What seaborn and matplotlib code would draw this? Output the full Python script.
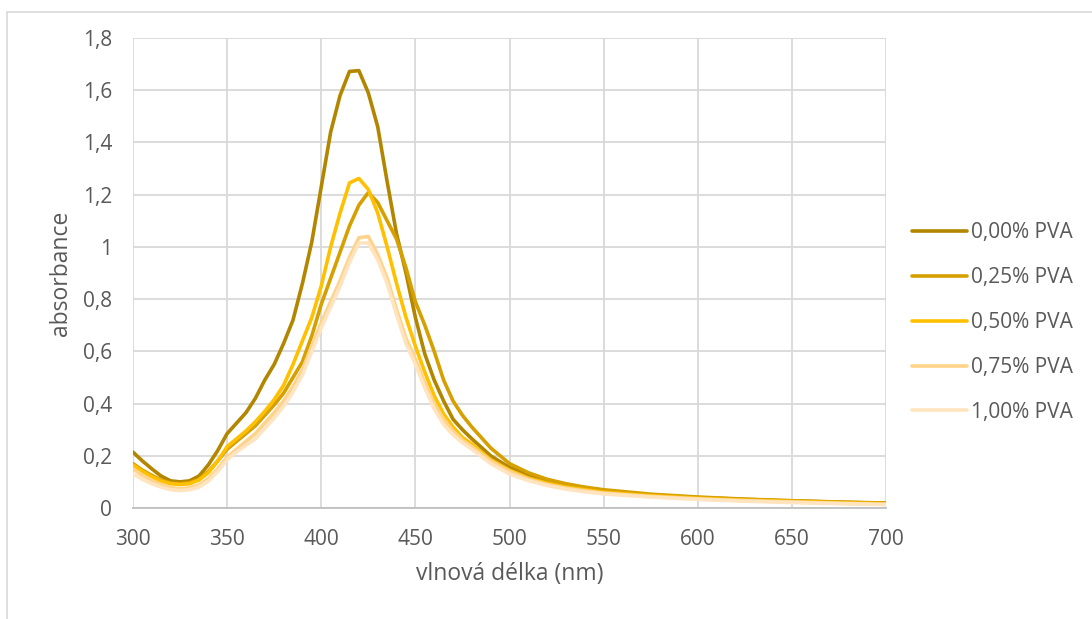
import pandas as pd
import seaborn as sns
import matplotlib.pyplot as plt
from matplotlib.patches import Rectangle

# wavelength grid (nm) shared by all spectra
wavelength = [300, 305, 310, 315, 320, 325, 330, 335, 340, 345, 350, 355, 360, 365, 370,
              375, 380, 385, 390, 395, 400, 405, 410, 415, 420, 425, 430, 435, 440, 445,
              450, 455, 460, 465, 470, 475, 480, 490, 500, 510, 520, 530, 540, 550,
              575, 600, 625, 650, 675, 700]

# absorbance
pva_000 = [0.214, 0.18, 0.15, 0.122, 0.104, 0.100, 0.104, 0.122, 0.165, 0.22, 0.285, 0.325,
           0.365, 0.42, 0.49, 0.55, 0.63, 0.72, 0.86, 1.02, 1.23, 1.44, 1.58, 1.672, 1.675,
           1.59, 1.46, 1.25, 1.05, 0.90, 0.73, 0.59, 0.49, 0.41, 0.34, 0.30, 0.265, 0.20,
           0.155, 0.125, 0.10, 0.085, 0.073, 0.063, 0.05, 0.04, 0.033, 0.027, 0.022, 0.018]
pva_025 = [0.17, 0.145, 0.125, 0.107, 0.096, 0.093, 0.097, 0.11, 0.14, 0.18, 0.225, 0.255,
           0.285, 0.315, 0.355, 0.395, 0.44, 0.50, 0.56, 0.66, 0.78, 0.88, 0.98, 1.08, 1.16,
           1.208, 1.17, 1.10, 1.03, 0.92, 0.79, 0.70, 0.60, 0.49, 0.41, 0.355, 0.31, 0.23,
           0.17, 0.135, 0.11, 0.093, 0.08, 0.07, 0.053, 0.042, 0.034, 0.028, 0.023, 0.019]
pva_050 = [0.165, 0.14, 0.12, 0.103, 0.093, 0.09, 0.093, 0.107, 0.135, 0.18, 0.235, 0.265,
           0.295, 0.33, 0.37, 0.415, 0.47, 0.55, 0.64, 0.73, 0.85, 1.00, 1.13, 1.245, 1.262,
           1.22, 1.13, 1.00, 0.86, 0.73, 0.62, 0.52, 0.43, 0.36, 0.31, 0.27, 0.245, 0.185,
           0.145, 0.115, 0.095, 0.08, 0.07, 0.06, 0.047, 0.037, 0.03, 0.025, 0.02, 0.016]
pva_075 = [0.15, 0.125, 0.105, 0.09, 0.078, 0.074, 0.077, 0.088, 0.112, 0.15, 0.195, 0.225,
           0.255, 0.285, 0.325, 0.365, 0.41, 0.465, 0.53, 0.62, 0.71, 0.79, 0.87, 0.96, 1.035,
           1.04, 0.97, 0.88, 0.76, 0.65, 0.57, 0.48, 0.40, 0.34, 0.295, 0.26, 0.235, 0.18,
           0.14, 0.11, 0.09, 0.076, 0.066, 0.057, 0.044, 0.035, 0.028, 0.023, 0.018, 0.014]
pva_100 = [0.13, 0.11, 0.093, 0.08, 0.07, 0.067, 0.07, 0.08, 0.103, 0.14, 0.185, 0.215,
           0.24, 0.265, 0.305, 0.345, 0.39, 0.445, 0.51, 0.60, 0.69, 0.77, 0.85, 0.94, 1.015,
           1.015, 0.95, 0.86, 0.74, 0.63, 0.55, 0.46, 0.38, 0.32, 0.28, 0.25, 0.225, 0.17,
           0.13, 0.105, 0.086, 0.072, 0.062, 0.054, 0.042, 0.033, 0.026, 0.021, 0.017, 0.013]

series_names = ["0,00% PVA", "0,25% PVA", "0,50% PVA", "0,75% PVA", "1,00% PVA"]
series_colors = ["#B38600", "#D6A000", "#FFC000", "#FFD38A", "#FFE4BF"]

y_ticks = [0, 0.2, 0.4, 0.6, 0.8, 1.0, 1.2, 1.4, 1.6, 1.8]
y_tick_labels = ["0", "0,2", "0,4", "0,6", "0,8", "1", "1,2", "1,4", "1,6", "1,8"]
x_ticks = [300, 350, 400, 450, 500, 550, 600, 650, 700]

frames = []
for name, vals in zip(series_names, [pva_000, pva_025, pva_050, pva_075, pva_100]):
    frames.append(pd.DataFrame({"wavelength": wavelength, "absorbance": vals, "series": name}))
df = pd.concat(frames, ignore_index=True)

sns.set_style("white")
plt.rcParams['font.family'] = ['Open Sans', 'DejaVu Sans']

fig = plt.figure(figsize=(10.92, 6.19), dpi=100)
ax = fig.add_axes([133 / 1092, 111 / 619, 753 / 1092, 470 / 619])

sns.lineplot(data=df, x="wavelength", y="absorbance", hue="series",
             palette=series_colors, hue_order=series_names, linewidth=2.6,
             estimator=None, sort=False, ax=ax)

ax.set_xlim(300, 700)
ax.set_ylim(0, 1.8)
ax.set_xticks(x_ticks)
ax.set_yticks(y_ticks)
ax.set_yticklabels(y_tick_labels)
ax.grid(True, color="#D9D9D9", linewidth=1.3)
ax.set_axisbelow(True)
for side in ["top", "right", "left"]:
    ax.spines[side].set_visible(False)
ax.spines["bottom"].set_color("#BFBFBF")
ax.spines["bottom"].set_linewidth(1.3)
ax.tick_params(axis="both", length=0, labelsize=15, colors="#595959")
ax.tick_params(axis="x", pad=15)
ax.tick_params(axis="y", pad=15)

ax.set_xlabel("vlnová délka (nm)", fontsize=16.5, color="#595959", labelpad=9)
ax.set_ylabel("absorbance", fontsize=16.5, color="#595959", labelpad=7)

leg = ax.legend(loc="center left", bbox_to_anchor=(1.024, 0.395), frameon=False,
                borderaxespad=0, fontsize=15, handlelength=2.6, handletextpad=0.2,
                labelspacing=1.15)
for txt in leg.get_texts():
    txt.set_color("#595959")

# outer chart border like the spreadsheet frame
fig.patches.append(Rectangle((7 / 1092, -0.05), 1.1, (619 - 12) / 619 + 0.05,
                             transform=fig.transFigure, fill=False,
                             edgecolor="#D9D9D9", linewidth=1.2))

fig.savefig("out.png", dpi=100)
